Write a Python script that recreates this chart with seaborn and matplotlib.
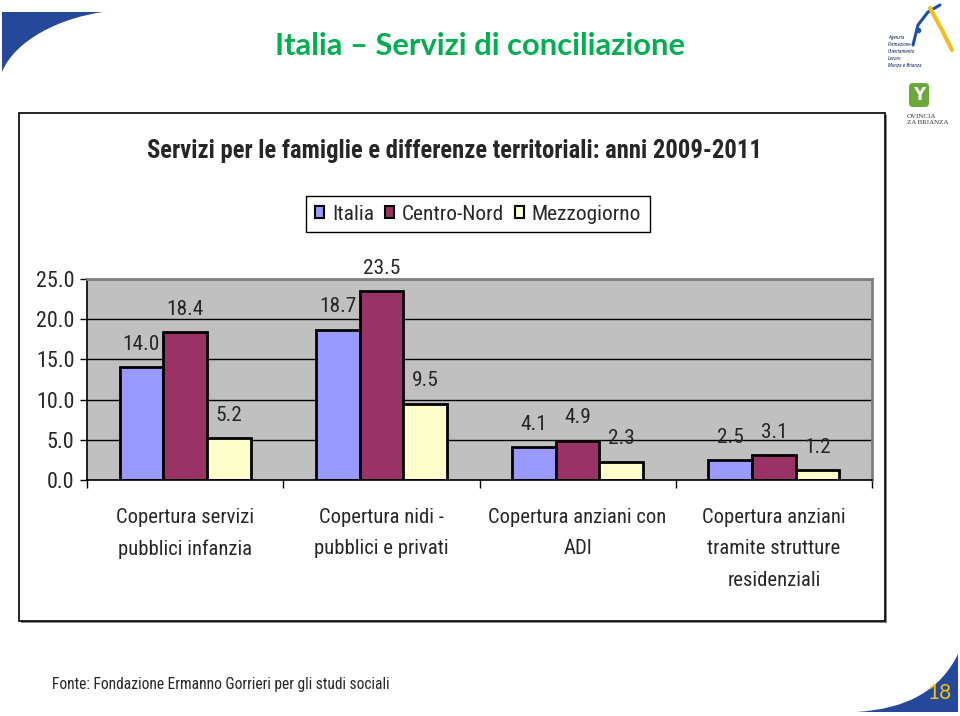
import matplotlib
matplotlib.use("Agg")
import matplotlib.pyplot as plt
import seaborn as sns
import pandas as pd
from matplotlib import font_manager as fm
from matplotlib.patches import PathPatch, Rectangle, FancyBboxPatch
from matplotlib.path import Path

# ---------------- data ----------------
categories = [
    "Copertura servizi\npubblici infanzia",
    "Copertura nidi -\npubblici e privati",
    "Copertura anziani con\nADI",
    "Copertura anziani\ntramite strutture\nresidenziali",
]
series = ["Italia", "Centro-Nord", "Mezzogiorno"]
italia = [14.0, 18.7, 4.1, 2.5]
centro_nord = [18.4, 23.5, 4.9, 3.1]
mezzogiorno = [5.2, 9.5, 2.3, 1.2]
yticks = [0, 5, 10, 15, 20, 25]
ytick_labels = ["0.0", "5.0", "10.0", "15.0", "20.0", "25.0"]
colors = ["#9999FF", "#993366", "#FFFFCC"]

df = pd.DataFrame({
    "categoria": categories * 3,
    "serie": [s for s in series for _ in categories],
    "valore": italia + centro_nord + mezzogiorno,
})

sns.set_style("white")

# choose a narrow font if one is installed, otherwise scale Liberation Sans down
avail = {f.name for f in fm.fontManager.ttflist}
narrow_name = None
for cand in ["Liberation Sans Narrow", "Arial Narrow", "Roboto Condensed",
             "Noto Sans Condensed", "Open Sans Condensed", "DejaVu Sans Condensed"]:
    if cand in avail:
        narrow_name = cand
        break
if narrow_name:
    NARROW = [narrow_name, "Liberation Sans", "DejaVu Sans"]
    k = 1.14
else:
    NARROW = ["Liberation Sans", "DejaVu Sans"]
    k = 1.0
plt.rcParams["font.family"] = NARROW

W, H = 960, 716
fig = plt.figure(figsize=(9.6, 7.16), dpi=100)
fig.patch.set_facecolor("white")

bg = fig.add_axes([0, 0, 1, 1], zorder=0)
bg.set_xlim(0, W)
bg.set_ylim(H, 0)
bg.axis("off")

blue = "#26489B"
p = Path([(2, 12), (103, 12), (60, 18), (15, 40), (2, 72), (2, 12)],
         [Path.MOVETO, Path.LINETO, Path.CURVE4, Path.CURVE4, Path.CURVE4, Path.CLOSEPOLY])
bg.add_patch(PathPatch(p, facecolor=blue, edgecolor="none"))
p2 = Path([(856, 712), (932, 708), (958, 654), (958, 712), (856, 712)],
          [Path.MOVETO, Path.CURVE3, Path.CURVE3, Path.LINETO, Path.CLOSEPOLY])
bg.add_patch(PathPatch(p2, facecolor=blue, edgecolor="none"))
bg.text(939, 693, "18", color="#F2C200", fontsize=15, family=["Lato", "DejaVu Sans"],
        ha="center", va="center")

bg.text(480, 46, "Italia \u2013 Servizi di conciliazione", color="#00B050",
        fontsize=22.2, fontweight="bold", family=["Lato", "DejaVu Sans"],
        ha="center", va="center")

# logos (approximation)
bg.plot([913, 918, 928, 940], [45, 25, 12, 5], color="#1F4FA0", lw=2.2)
bg.plot([930, 942, 952], [8, 30, 50], color="#F0C020", lw=3)
bg.plot([918], [30], marker="o", color="#1F4FA0", ms=3)
for i, t in enumerate(["Agenzia", "Formazione", "Orientamento", "Lavoro", "Monza e Brianza"]):
    bg.text(888, 37 + i * 7.2, t, fontsize=3.8, color="#1F3070", va="center", ha="left",
            style="italic")
bg.add_patch(FancyBboxPatch((909, 83), 20, 24, boxstyle="round,pad=0,rounding_size=4",
                            facecolor="#6BAA3A", edgecolor="none"))
bg.text(919, 95, "Y", color="white", fontsize=12, fontweight="bold", ha="center", va="center",
        family=["DejaVu Sans"])
bg.text(907, 116, "OVINCIA", fontsize=5, family=["Liberation Serif", "DejaVu Serif"],
        va="center", ha="left", color="#333333")
bg.text(907, 123, "ZA BRIANZA", fontsize=5, family=["Liberation Serif", "DejaVu Serif"],
        va="center", ha="left", color="#333333")

bg.add_patch(Rectangle((21, 115), 866, 508, facecolor="#888888", edgecolor="none"))
bg.add_patch(Rectangle((19, 113), 866, 508, facecolor="white", edgecolor="black", lw=1.2))

bg.text(454, 151, "Servizi per le famiglie e differenze territoriali: anni 2009-2011",
        fontsize=17.7 * k / 1.14, fontweight="bold", ha="center", va="center", family=NARROW)

bg.text(52, 684, "Fonte: Fondazione Ermanno Gorrieri per gli studi sociali",
        fontsize=11.2 * k / 1.14, ha="left", va="center", family=NARROW)

# ---------------- chart ----------------
ax = fig.add_axes([87 / W, 1 - 480 / H, 785 / W, 201 / H], zorder=2)
ax.set_facecolor("#C0C0C0")
sns.barplot(data=df, x="categoria", y="valore", hue="serie", order=categories,
            hue_order=series, palette=colors, saturation=1, width=0.667, gap=0,
            edgecolor="black", linewidth=2, errorbar=None, ax=ax)

ax.set_xlim(-0.5, 3.5)
ax.set_ylim(0, 25)
ax.set_yticks(yticks)
ax.set_yticklabels(ytick_labels, fontsize=14 * k)
ax.yaxis.grid(True, color="black", lw=1)
ax.xaxis.grid(False)
ax.set_axisbelow(True)
ax.set_xlabel("")
ax.set_ylabel("")
ax.tick_params(axis="y", direction="out", length=5, width=1, color="black", pad=4, left=True)
ax.set_xticks(range(len(categories)))
ax.set_xticklabels(categories, fontsize=13 * k)
ax.tick_params(axis="x", which="major", length=0, pad=20)
ax.set_xticks([-0.5, 0.5, 1.5, 2.5, 3.5], minor=True)
ax.tick_params(axis="x", which="minor", length=6, width=1, color="black", direction="out", bottom=True)
for lab in ax.get_xticklabels():
    lab.set_linespacing(2.08 / k)
    lab.set_verticalalignment("top")

for side in ["left", "bottom"]:
    ax.spines[side].set_color("black")
    ax.spines[side].set_linewidth(1.2)
for side in ["top", "right"]:
    ax.spines[side].set_color("#808080")
    ax.spines[side].set_linewidth(2)

for cont in ax.containers:
    ax.bar_label(cont, fmt="%.1f", padding=9.5, fontsize=13.5 * k)

handles, labels = ax.get_legend_handles_labels()
leg = ax.legend(handles, labels, ncol=3, loc="center",
                bbox_to_anchor=(478 / W, 1 - 214 / H), bbox_transform=fig.transFigure,
                frameon=True, fancybox=False, edgecolor="black", framealpha=1,
                handlelength=0.45, handleheight=0.45, handletextpad=0.35,
                columnspacing=0.5, borderpad=0.4, fontsize=13.5 * k)
leg.get_frame().set_linewidth(1)
for h in leg.legend_handles:
    h.set_edgecolor("black")
    h.set_linewidth(1.5)

fig.savefig("out.png", dpi=100)
